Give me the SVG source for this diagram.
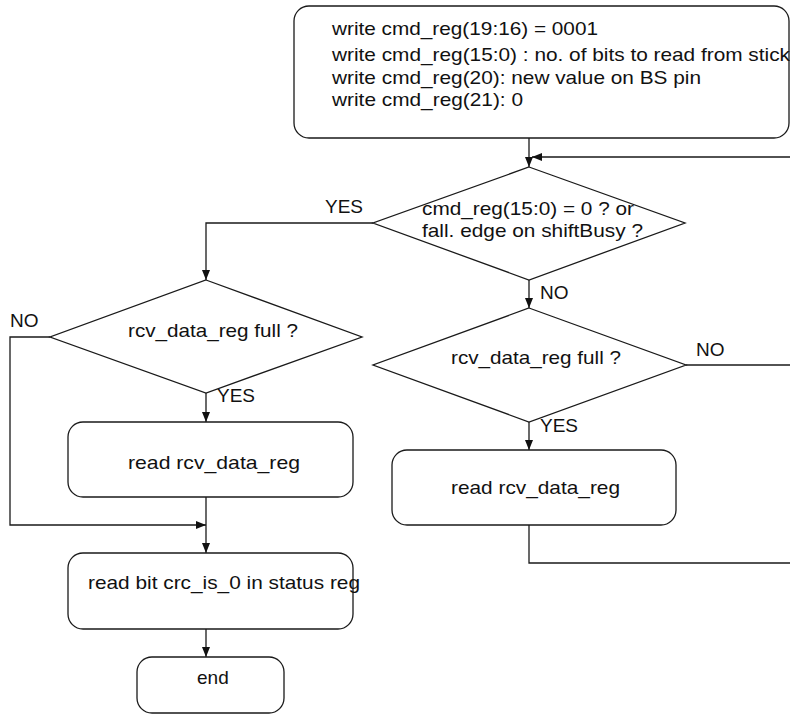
<svg xmlns="http://www.w3.org/2000/svg" width="790" height="715" viewBox="0 0 790 715">
<defs>
<style>
.box{fill:#fff;stroke:#1a1a1a;stroke-width:1.3}
.ln{fill:none;stroke:#1a1a1a;stroke-width:1.3}
.arr{marker-end:url(#ah)}
text{font-family:"Liberation Sans",Arial,sans-serif;font-size:19px;fill:#111}
</style>
<marker id="ah" markerUnits="userSpaceOnUse" markerWidth="10" markerHeight="8" refX="10" refY="4" orient="auto">
<path d="M0,0 L10,4 L0,8 z" fill="#111"/>
</marker>
</defs>
<rect width="790" height="715" fill="#fff"/>
<g id="connectors">
<path class="ln arr" d="M529,138 V167"/>
<path class="ln arr" d="M529,525 V563 H792 V157 H532"/>
<path class="ln" d="M686,365 H792"/>
<path class="ln arr" d="M373,223 H206 V280"/>
<path class="ln arr" d="M529,280 V308"/>
<path class="ln arr" d="M529,422 V450"/>
<path class="ln arr" d="M206,393 V422"/>
<path class="ln arr" d="M50,337 H10 V525 H206"/>
<path class="ln arr" d="M206,497 V553"/>
<path class="ln arr" d="M206,629 V657"/>
</g>
<g id="n_init">
<rect class="box" x="294" y="6" width="495" height="132" rx="15"/>
<text x="332" y="35" textLength="266" lengthAdjust="spacingAndGlyphs">write cmd_reg(19:16) = 0001</text>
<text x="332" y="61" textLength="458" lengthAdjust="spacingAndGlyphs">write cmd_reg(15:0) : no. of bits to read from stick</text>
<text x="332" y="84" textLength="369" lengthAdjust="spacingAndGlyphs">write cmd_reg(20): new value on BS pin</text>
<text x="332" y="106" textLength="191" lengthAdjust="spacingAndGlyphs">write cmd_reg(21): 0</text>
</g>
<g id="n_check">
<polygon class="box" points="529,167 685,223 529,280 373,223"/>
<text x="422" y="215" textLength="212" lengthAdjust="spacingAndGlyphs">cmd_reg(15:0) = 0 ? or</text>
<text x="422" y="237" textLength="221" lengthAdjust="spacingAndGlyphs">fall. edge on shiftBusy ?</text>
</g>
<g id="n_full_left">
<polygon class="box" points="206,280 362,337 206,393 50,337"/>
<text x="128" y="337" textLength="170" lengthAdjust="spacingAndGlyphs">rcv_data_reg full ?</text>
</g>
<g id="n_read_left">
<rect class="box" x="68" y="422" width="285" height="75" rx="15"/>
<text x="128" y="469" textLength="172" lengthAdjust="spacingAndGlyphs">read rcv_data_reg</text>
</g>
<g id="n_full_right">
<polygon class="box" points="529,308 686,365 529,422 373,365"/>
<text x="451" y="364" textLength="170" lengthAdjust="spacingAndGlyphs">rcv_data_reg full ?</text>
</g>
<g id="n_read_right">
<rect class="box" x="392" y="450" width="284" height="75" rx="15"/>
<text x="451" y="494" textLength="169" lengthAdjust="spacingAndGlyphs">read rcv_data_reg</text>
</g>
<g id="n_status">
<rect class="box" x="68" y="553" width="285" height="76" rx="15"/>
<text x="88" y="589" textLength="272" lengthAdjust="spacingAndGlyphs">read bit crc_is_0 in status reg</text>
</g>
<g id="n_end">
<rect class="box" x="137" y="657" width="147" height="56" rx="15"/>
<text x="197" y="684">end</text>
</g>
<g id="labels">
<text x="325" y="213">YES</text>
<text x="10" y="327">NO</text>
<text x="217" y="402">YES</text>
<text x="540" y="299">NO</text>
<text x="696" y="356">NO</text>
<text x="540" y="432">YES</text>
</g>
</svg>
